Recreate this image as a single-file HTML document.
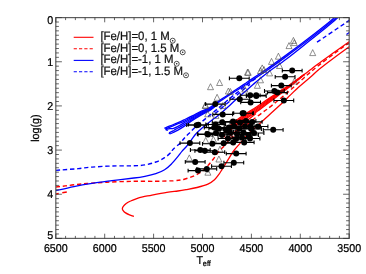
<!DOCTYPE html>
<html><head><meta charset="utf-8"><title>HR diagram</title>
<style>
html,body{margin:0;padding:0;background:#fff;overflow:hidden;}
svg{display:block;will-change:transform;text-rendering:geometricPrecision;font-family:"Liberation Sans",sans-serif;fill:#000;}
</style></head><body>
<svg width="366" height="274" viewBox="0 0 366 274">
<rect width="366" height="274" fill="#fff"/>
<defs><clipPath id="c"><rect x="55.8" y="17.6" width="293.40" height="220.80"/></clipPath></defs>
<g>
<g clip-path="url(#c)" fill="none" stroke-linejoin="round" stroke-linecap="butt">
<path d="M133.9 216.3C133.2 216.1 130.9 215.4 129.5 214.8C128.1 214.2 126.3 213.3 125.2 212.6C124.1 211.9 123.5 211.1 123.0 210.4C122.5 209.7 122.3 209.1 122.4 208.4C122.5 207.7 122.9 207.0 123.5 206.2C124.1 205.4 125.0 204.4 126.2 203.5C127.4 202.6 128.9 201.8 130.6 201.0C132.2 200.2 134.1 199.5 136.1 198.8C138.1 198.1 140.0 197.5 142.7 196.9C145.3 196.3 148.0 195.9 152.0 195.1C156.0 194.3 162.5 193.0 166.8 192.3C171.1 191.6 174.6 191.4 177.8 191.0C181.0 190.6 182.8 190.3 186.0 189.7C189.2 189.1 193.3 188.4 197.0 187.5C200.7 186.6 205.0 185.5 207.9 184.2C210.8 182.9 212.7 181.4 214.5 179.8C216.3 178.2 217.6 176.2 218.9 174.4C220.2 172.6 221.0 171.1 222.4 168.9C223.8 166.7 225.4 164.1 227.2 161.2C229.0 158.3 231.1 154.4 233.2 151.5C235.3 148.6 237.6 146.2 239.8 143.6C242.0 140.9 243.6 138.7 246.6 135.6C249.6 132.5 254.2 128.7 257.9 125.3C261.6 121.9 265.2 118.5 268.9 115.2C272.5 111.9 276.1 108.7 279.8 105.3C283.5 101.9 287.9 97.4 290.8 94.6C293.7 91.8 294.9 90.5 297.2 88.4C299.5 86.3 301.9 84.3 304.4 82.2C306.9 80.1 309.7 77.7 312.0 75.7C314.3 73.7 315.2 72.6 318.0 70.3C320.8 68.0 323.3 65.9 328.5 62.0C333.7 58.1 343.9 50.6 349.2 46.8C354.4 43.0 358.2 40.3 360.0 39.0" stroke="#f00" stroke-width="1.3"/>
<path d="M228.0 127.5C229.2 126.5 232.2 123.7 235.0 121.5C237.8 119.3 241.3 116.8 244.8 114.4C248.3 112.0 252.1 109.8 256.0 107.2C259.9 104.6 264.0 101.7 268.0 99.0C272.0 96.3 276.0 93.8 279.8 91.3C283.6 88.8 286.5 87.0 290.6 84.2C294.7 81.4 301.1 76.7 304.4 74.3C307.7 71.9 308.1 71.5 310.4 69.8C312.7 68.1 313.9 66.9 318.0 63.9C322.1 60.9 329.8 55.5 335.0 51.8C340.2 48.1 345.0 44.7 349.2 41.7C353.4 38.7 358.2 35.3 360.0 34.0" stroke="#f00" stroke-width="1.3"/>
<path d="M228.0 128.8C229.2 127.8 232.2 124.9 235.0 122.8C237.8 120.6 241.3 118.0 244.8 115.7C248.3 113.3 252.1 111.0 256.0 108.5C259.9 105.9 264.0 102.8 268.0 100.1C272.0 97.3 276.0 94.6 279.8 92.0C283.6 89.5 286.5 87.6 290.6 84.6C294.7 81.7 302.1 76.1 304.4 74.3" stroke="#f00" stroke-width="1.3"/>
<path d="M228.0 130.0C229.2 129.0 232.2 126.2 235.0 124.0C237.8 121.8 241.3 119.3 244.8 116.9C248.3 114.5 252.1 112.3 256.0 109.7C259.9 107.1 264.0 104.0 268.0 101.2C272.0 98.3 276.0 95.5 279.8 92.8C283.6 90.1 286.5 88.1 290.6 85.1C294.7 82.0 302.1 76.2 304.4 74.4" stroke="#f00" stroke-width="1.3"/>
<path d="M228.0 131.2C229.2 130.2 232.2 127.4 235.0 125.2C237.8 123.1 241.3 120.5 244.8 118.2C248.3 115.8 252.1 113.6 256.0 111.0C259.9 108.3 264.0 105.1 268.0 102.2C272.0 99.3 276.0 96.3 279.8 93.5C283.6 90.7 286.5 88.7 290.6 85.5C294.7 82.3 302.1 76.3 304.4 74.4" stroke="#f00" stroke-width="1.3"/>
<path d="M228.0 132.5C229.2 131.5 232.2 128.7 235.0 126.5C237.8 124.3 241.3 121.8 244.8 119.4C248.3 117.0 252.1 114.9 256.0 112.2C259.9 109.5 264.0 106.3 268.0 103.3C272.0 100.3 276.0 97.2 279.8 94.3C283.6 91.4 286.5 89.2 290.6 86.0C294.7 82.7 302.1 76.4 304.4 74.5" stroke="#f00" stroke-width="1.3"/>
<path d="M228.0 127.5C227.5 128.1 225.7 129.8 225.0 131.0C224.3 132.2 223.8 133.8 224.0 135.0C224.2 136.2 225.0 137.8 226.0 138.0C227.0 138.2 228.3 137.2 230.0 136.0C231.7 134.8 233.5 133.2 236.0 131.0C238.5 128.8 241.5 125.4 244.8 122.5C248.1 119.6 254.1 115.0 256.0 113.5" stroke="#f00" stroke-width="1.3"/>
<path d="M55.8 194.0L66.8 191.9" stroke="#f00" stroke-width="1.5" stroke-dasharray="3 3.6 5"/>
<path d="M55.8 187.0C57.4 186.8 61.3 186.4 65.2 185.9C69.1 185.4 75.8 184.6 79.4 184.2C83.1 183.8 82.5 183.8 87.1 183.5C91.7 183.2 99.3 182.6 106.8 182.2C114.3 181.8 123.8 181.5 132.0 181.3C140.2 181.2 148.9 181.4 155.8 181.3C162.7 181.2 168.7 181.0 173.4 180.7C178.2 180.3 180.7 180.1 184.3 179.2C187.9 178.3 191.8 176.8 194.8 175.5C197.8 174.2 200.2 172.8 202.4 171.1C204.6 169.4 206.1 167.6 207.9 165.6C209.7 163.6 211.6 161.4 213.4 159.0C215.2 156.6 216.9 153.7 218.9 151.3C220.9 148.9 223.7 146.8 225.5 144.8C227.3 142.8 227.2 141.9 229.8 139.3C232.4 136.8 236.7 133.1 241.0 129.5C245.3 125.9 251.0 121.2 255.7 117.6C260.3 114.0 264.9 110.9 268.9 107.8C272.9 104.7 276.1 102.0 279.8 99.0C283.5 96.0 286.7 93.4 290.8 89.8C294.9 86.2 299.9 81.4 304.4 77.4C308.9 73.4 312.9 70.0 318.0 65.9C323.1 61.8 329.8 56.9 335.0 53.0C340.2 49.1 345.0 45.7 349.2 42.7C353.4 39.7 358.2 36.3 360.0 35.0" stroke="#f00" stroke-width="1.4" stroke-dasharray="4.3 2.8"/>
<path d="M55.8 190.7C58.8 190.0 67.9 187.8 73.9 186.6C79.9 185.4 85.7 184.4 92.0 183.4C98.3 182.4 105.0 181.6 112.0 180.7C119.0 179.8 128.4 178.7 133.9 178.0C139.4 177.3 141.2 177.0 144.9 176.3C148.6 175.6 152.5 174.8 155.8 173.7C159.1 172.6 162.0 171.3 164.6 169.7C167.2 168.1 169.0 166.4 171.2 164.2C173.4 162.0 176.0 158.8 177.8 156.6C179.6 154.4 180.7 152.7 182.1 151.1C183.5 149.5 184.5 148.8 186.0 147.0C187.5 145.2 189.4 142.5 191.1 140.3C192.8 138.1 194.3 135.7 196.0 133.8C197.7 131.9 198.0 131.5 201.0 129.0C204.0 126.5 210.7 121.2 214.0 118.6C217.3 116.0 218.6 115.2 221.0 113.2C223.4 111.2 225.8 109.0 228.2 106.8C230.6 104.6 233.1 102.1 235.2 100.2C237.3 98.3 239.0 96.8 240.8 95.2C242.6 93.6 244.0 92.5 246.0 90.8C248.0 89.0 249.3 87.6 252.8 84.7C256.3 81.8 261.1 77.5 266.8 73.2C272.5 68.9 279.8 64.0 286.8 58.7C293.8 53.4 302.4 46.4 308.6 41.5C314.8 36.6 319.1 33.2 324.0 29.2C328.9 25.2 334.5 20.5 338.0 17.6C341.5 14.7 343.8 12.9 345.0 12.0" stroke="#00f" stroke-width="1.3"/>
<path d="M164.4 128.4C165.3 128.0 167.8 126.8 170.0 125.9C172.2 125.0 175.2 123.9 177.5 122.9C179.8 121.9 181.4 121.1 184.0 119.9C186.6 118.7 189.9 117.2 192.8 115.7C195.7 114.2 198.6 112.6 201.5 111.2C204.4 109.8 206.9 109.4 210.3 107.3C213.7 105.2 217.1 102.2 222.0 98.8C226.9 95.5 236.0 89.7 240.0 87.0C244.0 84.4 243.9 84.4 246.0 83.0C248.1 81.5 249.3 80.7 252.8 78.4C256.3 76.1 261.1 72.9 266.8 69.0C272.5 65.0 279.8 59.7 286.8 54.6C293.8 49.5 302.4 43.0 308.6 38.2C314.8 33.5 319.5 29.8 324.0 26.2C328.5 22.7 332.3 19.4 335.5 16.9C338.7 14.3 341.8 11.8 343.0 10.8" stroke="#00f" stroke-width="1.3"/>
<path d="M165.2 129.2C166.0 128.9 167.9 128.1 170.0 127.2C172.1 126.3 175.2 124.9 177.5 123.9C179.8 122.9 181.4 122.6 184.0 121.4C186.6 120.2 189.9 118.3 192.8 116.8C195.7 115.3 198.6 113.7 201.5 112.2C204.4 110.7 207.9 109.3 210.3 108.0C212.7 106.7 214.1 105.5 216.0 104.2C217.9 102.9 218.0 102.6 222.0 99.9C226.0 97.2 236.0 90.8 240.0 88.2C244.0 85.6 243.9 85.8 246.0 84.5C248.1 83.1 249.3 82.2 252.8 79.9C256.3 77.6 261.1 74.4 266.8 70.5C272.5 66.5 279.8 61.2 286.8 56.1C293.8 51.0 302.4 44.5 308.6 39.8C314.8 35.0 319.5 31.3 324.0 27.8C328.5 24.2 332.3 20.9 335.5 18.4C338.7 15.8 341.8 13.3 343.0 12.2" stroke="#00f" stroke-width="1.3"/>
<path d="M167.9 130.5C167.6 130.3 165.8 129.9 166.2 129.6C166.5 129.3 168.8 128.9 170.0 128.7C171.2 128.5 172.2 128.7 173.5 128.3C174.8 128.0 175.8 127.5 177.5 126.6C179.2 125.7 181.4 124.4 184.0 122.9C186.6 121.5 189.9 119.5 192.8 117.9C195.7 116.3 198.6 114.6 201.5 113.1C204.4 111.6 207.9 110.1 210.3 108.7C212.7 107.3 215.1 105.4 216.0 104.7" stroke="#00f" stroke-width="1.3"/>
<path d="M169.0 132.8C169.7 132.5 172.2 131.4 173.2 130.9C174.2 130.4 174.3 130.0 175.0 129.6C175.7 129.2 176.0 129.1 177.5 128.3C179.0 127.5 181.4 126.1 184.0 124.6C186.6 123.0 189.9 120.8 192.8 119.0C195.7 117.2 198.6 115.6 201.5 114.0C204.4 112.4 207.9 110.9 210.3 109.4C212.7 107.9 215.1 105.9 216.0 105.2" stroke="#00f" stroke-width="1.3"/>
<path d="M169.7 134.0C170.3 133.8 171.9 133.1 173.2 132.5C174.5 131.9 175.7 131.4 177.5 130.4C179.3 129.4 181.4 128.1 184.0 126.4C186.6 124.7 189.9 122.0 192.8 120.1C195.7 118.2 198.6 116.6 201.5 114.9C204.4 113.2 207.9 111.6 210.3 110.1C212.7 108.6 215.1 106.4 216.0 105.7" stroke="#00f" stroke-width="1.3"/>
<path d="M169.0 132.8L169.7 134.0" stroke="#00f" stroke-width="1.3"/>
<path d="M55.8 170.4C59.5 170.1 72.3 169.2 78.3 168.6C84.3 168.0 86.4 167.5 92.0 167.1C97.6 166.7 105.0 166.2 112.0 166.0C119.0 165.8 128.4 166.0 133.9 165.8C139.4 165.6 141.2 165.5 144.9 164.9C148.6 164.3 152.5 163.2 155.8 162.0C159.1 160.8 162.0 159.3 164.6 157.7C167.2 156.1 169.8 153.6 171.2 152.2C172.6 150.8 171.5 151.0 173.0 149.4C174.5 147.8 178.3 144.9 180.4 142.8C182.5 140.7 183.8 138.6 185.3 137.0C186.8 135.4 187.8 134.6 189.5 133.0C191.2 131.4 192.3 129.8 195.2 127.2C198.1 124.6 203.0 120.8 207.0 117.5C211.0 114.2 215.5 110.6 219.4 107.3C223.3 104.0 227.7 100.2 230.6 97.8C233.5 95.4 235.0 94.4 236.8 92.9C238.7 91.4 240.0 90.0 241.7 88.6C243.4 87.2 244.8 86.3 247.2 84.6C249.6 82.9 254.5 79.3 256.0 78.2" stroke="#00f" stroke-width="1.4" stroke-dasharray="4.3 2.8"/>
<path d="M212.0 116.2C213.2 115.2 216.3 112.6 219.4 110.0C222.5 107.4 227.7 102.9 230.6 100.4C233.5 97.9 234.7 96.9 236.8 95.2C238.9 93.5 240.8 91.8 243.0 90.0C245.2 88.2 248.8 85.3 250.0 84.4" stroke="#00f" stroke-width="1.4" stroke-dasharray="4.3 2.8" stroke-dashoffset="3"/>
<path d="M317.0 42.2C322.4 38.6 342.0 25.3 349.2 20.4C356.4 15.5 358.2 14.2 360.0 13.0" stroke="#00f" stroke-width="1.4" stroke-dasharray="4.3 2.8"/>
<path d="M346.5 34.5C346.9 34.2 348.3 33.2 349.2 32.5C350.1 31.8 351.5 30.8 352.0 30.5" stroke="#00f" stroke-width="1.3"/>
</g>
<path d="M207.5 89.7L210.5 83.7L213.5 89.7ZM216.6 85.5L219.6 79.5L222.6 85.5ZM214.1 100.3L217.1 94.3L220.1 100.3ZM225.4 94.0L228.4 88.0L231.4 94.0ZM227.4 94.5L230.4 88.5L233.4 94.5ZM244.5 75.2L247.5 69.2L250.5 75.2ZM202.6 108.0L205.6 102.0L208.6 108.0ZM219.9 108.5L222.9 102.5L225.9 108.5ZM309.7 55.6L312.7 49.6L315.7 55.6ZM290.4 43.4L293.4 37.4L296.4 43.4ZM291.3 45.6L294.3 39.6L297.3 45.6ZM286.0 48.6L289.0 42.6L292.0 48.6ZM275.4 59.2L278.4 53.2L281.4 59.2ZM268.5 64.4L271.5 58.4L274.5 64.4ZM259.2 70.9L262.2 64.9L265.2 70.9ZM257.5 73.5L260.5 67.5L263.5 73.5ZM261.0 72.5L264.0 66.5L267.0 72.5ZM276.5 68.5L279.5 62.5L282.5 68.5ZM266.6 75.9L269.6 69.9L272.6 75.9ZM257.5 82.8L260.5 76.8L263.5 82.8ZM245.2 75.3L248.2 69.3L251.2 75.3ZM254.4 88.3L257.4 82.3L260.4 88.3ZM241.8 92.0L244.8 86.0L247.8 92.0ZM202.2 108.5L205.2 102.5L208.2 108.5ZM204.7 116.8L207.7 110.8L210.7 116.8ZM212.9 118.4L215.9 112.4L218.9 118.4ZM291.5 84.0L294.5 78.0L297.5 84.0ZM186.3 160.9L189.3 154.9L192.3 160.9ZM215.9 162.0L218.9 156.0L221.9 162.0ZM210.4 142.3L213.4 136.3L216.4 142.3ZM202.7 143.4L205.7 137.4L208.7 143.4ZM204.9 175.2L207.9 169.2L210.9 175.2ZM217.0 152.2L220.0 146.2L223.0 152.2Z" fill="none" stroke="#444" stroke-width="0.6"/>
<path d="M229.4 78.3H249.2M229.4 76.4v3.8M249.2 76.4v3.8M205.4 104.1H225.2M205.4 102.2v3.8M225.2 102.2v3.8M186.7 125.2H206.5M186.7 123.3v3.8M206.5 123.3v3.8M188.5 124.7H208.3M188.5 122.8v3.8M208.3 122.8v3.8M180.0 143.1H199.8M180.0 141.2v3.8M199.8 141.2v3.8M282.3 70.6H302.1M282.3 68.7v3.8M302.1 68.7v3.8M275.2 76.8H295.0M275.2 74.9v3.8M295.0 74.9v3.8M271.4 85.6H291.2M271.4 83.7v3.8M291.2 83.7v3.8M273.9 100.5H293.7M273.9 98.6v3.8M293.7 98.6v3.8M264.5 91.0H284.3M264.5 89.1v3.8M284.3 89.1v3.8M267.5 92.6H287.3M267.5 90.7v3.8M287.3 90.7v3.8M246.3 95.2H266.1M246.3 93.3v3.8M266.1 93.3v3.8M240.3 95.3H260.1M240.3 93.4v3.8M260.1 93.4v3.8M229.9 99.3H249.7M229.9 97.4v3.8M249.7 97.4v3.8M240.7 102.4H260.5M240.7 100.5v3.8M260.5 100.5v3.8M246.4 96.0H266.2M246.4 94.1v3.8M266.2 94.1v3.8M212.8 114.4H232.6M212.8 112.5v3.8M232.6 112.5v3.8M233.7 113.2H253.5M233.7 111.3v3.8M253.5 111.3v3.8M205.8 124.5H225.6M205.8 122.6v3.8M225.6 122.6v3.8M212.3 122.2H232.1M212.3 120.3v3.8M232.1 120.3v3.8M198.1 134.5H217.9M198.1 132.6v3.8M217.9 132.6v3.8M202.5 143.8H222.3M202.5 141.9v3.8M222.3 141.9v3.8M190.4 150.0H210.2M190.4 148.1v3.8M210.2 148.1v3.8M263.3 129.8H283.1M263.3 127.9v3.8M283.1 127.9v3.8M223.3 142.4H243.1M223.3 140.5v3.8M243.1 140.5v3.8M234.3 142.4H254.1M234.3 140.5v3.8M254.1 140.5v3.8M213.7 143.2H233.5M213.7 141.3v3.8M233.5 141.3v3.8M226.3 153.6H246.1M226.3 151.7v3.8M246.1 151.7v3.8M204.9 152.2H224.7M204.9 150.3v3.8M224.7 150.3v3.8M194.9 150.8H214.7M194.9 148.9v3.8M214.7 148.9v3.8M185.3 161.9H205.1M185.3 160.0v3.8M205.1 160.0v3.8M223.9 162.7H243.7M223.9 160.8v3.8M243.7 160.8v3.8M211.6 166.2H231.4M211.6 164.3v3.8M231.4 164.3v3.8M196.9 168.9H216.7M196.9 167.0v3.8M216.7 167.0v3.8M188.1 170.6H207.9M188.1 168.7v3.8M207.9 168.7v3.8M232.7 113.3H252.5M232.7 111.4v3.8M252.5 111.4v3.8M242.3 121.9H262.1M242.3 120.0v3.8M262.1 120.0v3.8M240.7 126.3H260.5M240.7 124.4v3.8M260.5 124.4v3.8M208.9 128.6H228.7M208.9 126.7v3.8M228.7 126.7v3.8M204.3 127.6H224.1M204.3 125.7v3.8M224.1 125.7v3.8M219.1 127.5H238.9M219.1 125.6v3.8M238.9 125.6v3.8M224.1 126.0H243.9M224.1 124.1v3.8M243.9 124.1v3.8M229.1 128.5H248.9M229.1 126.6v3.8M248.9 126.6v3.8M235.1 126.5H254.9M235.1 124.6v3.8M254.9 124.6v3.8M241.6 129.0H261.4M241.6 127.1v3.8M261.4 127.1v3.8M248.1 126.5H267.9M248.1 124.6v3.8M267.9 124.6v3.8M223.1 121.5H242.9M223.1 119.6v3.8M242.9 119.6v3.8M230.1 122.5H249.9M230.1 120.6v3.8M249.9 120.6v3.8M236.1 121.0H255.9M236.1 119.1v3.8M255.9 119.1v3.8M197.4 134.0H217.2M197.4 132.1v3.8M217.2 132.1v3.8M206.1 133.0H225.9M206.1 131.1v3.8M225.9 131.1v3.8M212.1 135.0H231.9M212.1 133.1v3.8M231.9 133.1v3.8M220.1 132.5H239.9M220.1 130.6v3.8M239.9 130.6v3.8M227.1 134.0H246.9M227.1 132.1v3.8M246.9 132.1v3.8M233.6 132.5H253.4M233.6 130.6v3.8M253.4 130.6v3.8M238.6 135.0H258.4M238.6 133.1v3.8M258.4 133.1v3.8M218.1 138.5H237.9M218.1 136.6v3.8M237.9 136.6v3.8M226.1 139.0H245.9M226.1 137.1v3.8M245.9 137.1v3.8M232.1 137.5H251.9M232.1 135.6v3.8M251.9 135.6v3.8M240.1 138.5H259.9M240.1 136.6v3.8M259.9 136.6v3.8M216.1 130.0H235.9M216.1 128.1v3.8M235.9 128.1v3.8M244.1 133.0H263.9M244.1 131.1v3.8M263.9 131.1v3.8" fill="none" stroke="#000" stroke-width="1.1"/>
<g fill="#000"><circle cx="239.3" cy="78.3" r="3.0"/><circle cx="215.3" cy="104.1" r="3.0"/><circle cx="196.6" cy="125.2" r="3.0"/><circle cx="198.4" cy="124.7" r="3.0"/><circle cx="189.9" cy="143.1" r="3.0"/><circle cx="292.2" cy="70.6" r="3.0"/><circle cx="285.1" cy="76.8" r="3.0"/><circle cx="281.3" cy="85.6" r="3.0"/><circle cx="283.8" cy="100.5" r="3.0"/><circle cx="274.4" cy="91.0" r="3.0"/><circle cx="277.4" cy="92.6" r="3.0"/><circle cx="256.2" cy="95.2" r="3.0"/><circle cx="250.2" cy="95.3" r="3.0"/><circle cx="239.8" cy="99.3" r="3.0"/><circle cx="250.6" cy="102.4" r="3.0"/><circle cx="256.3" cy="96.0" r="3.0"/><circle cx="222.7" cy="114.4" r="3.0"/><circle cx="243.6" cy="113.2" r="3.0"/><circle cx="215.7" cy="124.5" r="3.0"/><circle cx="222.2" cy="122.2" r="3.0"/><circle cx="208.0" cy="134.5" r="3.0"/><circle cx="212.4" cy="143.8" r="3.0"/><circle cx="200.3" cy="150.0" r="3.0"/><circle cx="273.2" cy="129.8" r="3.0"/><circle cx="233.2" cy="142.4" r="3.0"/><circle cx="244.2" cy="142.4" r="3.0"/><circle cx="223.6" cy="143.2" r="3.0"/><circle cx="236.2" cy="153.6" r="3.0"/><circle cx="214.8" cy="152.2" r="3.0"/><circle cx="204.8" cy="150.8" r="3.0"/><circle cx="195.2" cy="161.9" r="3.0"/><circle cx="233.8" cy="162.7" r="3.0"/><circle cx="221.5" cy="166.2" r="3.0"/><circle cx="206.8" cy="168.9" r="3.0"/><circle cx="198.0" cy="170.6" r="3.0"/><circle cx="242.6" cy="113.3" r="3.0"/><circle cx="252.2" cy="121.9" r="3.0"/><circle cx="250.6" cy="126.3" r="3.0"/><circle cx="218.8" cy="128.6" r="3.0"/><circle cx="214.2" cy="127.6" r="3.0"/><circle cx="229.0" cy="127.5" r="3.0"/><circle cx="234.0" cy="126.0" r="3.0"/><circle cx="239.0" cy="128.5" r="3.0"/><circle cx="245.0" cy="126.5" r="3.0"/><circle cx="251.5" cy="129.0" r="3.0"/><circle cx="258.0" cy="126.5" r="3.0"/><circle cx="233.0" cy="121.5" r="3.0"/><circle cx="240.0" cy="122.5" r="3.0"/><circle cx="246.0" cy="121.0" r="3.0"/><circle cx="207.3" cy="134.0" r="3.0"/><circle cx="216.0" cy="133.0" r="3.0"/><circle cx="222.0" cy="135.0" r="3.0"/><circle cx="230.0" cy="132.5" r="3.0"/><circle cx="237.0" cy="134.0" r="3.0"/><circle cx="243.5" cy="132.5" r="3.0"/><circle cx="248.5" cy="135.0" r="3.0"/><circle cx="228.0" cy="138.5" r="3.0"/><circle cx="236.0" cy="139.0" r="3.0"/><circle cx="242.0" cy="137.5" r="3.0"/><circle cx="250.0" cy="138.5" r="3.0"/><circle cx="226.0" cy="130.0" r="3.0"/><circle cx="254.0" cy="133.0" r="3.0"/></g>
<rect x="55.8" y="17.6" width="293.40" height="220.80" fill="none" stroke="#5c5c5c" stroke-width="1.2"/>
<path d="M55.80 238.4v-4.7M55.80 17.6v4.7M65.58 238.4v-2.5M65.58 17.6v2.5M75.36 238.4v-2.5M75.36 17.6v2.5M85.14 238.4v-2.5M85.14 17.6v2.5M94.92 238.4v-2.5M94.92 17.6v2.5M104.70 238.4v-4.7M104.70 17.6v4.7M114.48 238.4v-2.5M114.48 17.6v2.5M124.26 238.4v-2.5M124.26 17.6v2.5M134.04 238.4v-2.5M134.04 17.6v2.5M143.82 238.4v-2.5M143.82 17.6v2.5M153.60 238.4v-4.7M153.60 17.6v4.7M163.38 238.4v-2.5M163.38 17.6v2.5M173.16 238.4v-2.5M173.16 17.6v2.5M182.94 238.4v-2.5M182.94 17.6v2.5M192.72 238.4v-2.5M192.72 17.6v2.5M202.50 238.4v-4.7M202.50 17.6v4.7M212.28 238.4v-2.5M212.28 17.6v2.5M222.06 238.4v-2.5M222.06 17.6v2.5M231.84 238.4v-2.5M231.84 17.6v2.5M241.62 238.4v-2.5M241.62 17.6v2.5M251.40 238.4v-4.7M251.40 17.6v4.7M261.18 238.4v-2.5M261.18 17.6v2.5M270.96 238.4v-2.5M270.96 17.6v2.5M280.74 238.4v-2.5M280.74 17.6v2.5M290.52 238.4v-2.5M290.52 17.6v2.5M300.30 238.4v-4.7M300.30 17.6v4.7M310.08 238.4v-2.5M310.08 17.6v2.5M319.86 238.4v-2.5M319.86 17.6v2.5M329.64 238.4v-2.5M329.64 17.6v2.5M339.42 238.4v-2.5M339.42 17.6v2.5M349.20 238.4v-4.7M349.20 17.6v4.7M55.8 17.60h6.1M349.2 17.60h-6.1M55.8 22.02h3.1M349.2 22.02h-3.1M55.8 26.43h3.1M349.2 26.43h-3.1M55.8 30.85h3.1M349.2 30.85h-3.1M55.8 35.26h3.1M349.2 35.26h-3.1M55.8 39.68h3.1M349.2 39.68h-3.1M55.8 44.10h3.1M349.2 44.10h-3.1M55.8 48.51h3.1M349.2 48.51h-3.1M55.8 52.93h3.1M349.2 52.93h-3.1M55.8 57.34h3.1M349.2 57.34h-3.1M55.8 61.76h6.1M349.2 61.76h-6.1M55.8 66.18h3.1M349.2 66.18h-3.1M55.8 70.59h3.1M349.2 70.59h-3.1M55.8 75.01h3.1M349.2 75.01h-3.1M55.8 79.42h3.1M349.2 79.42h-3.1M55.8 83.84h3.1M349.2 83.84h-3.1M55.8 88.26h3.1M349.2 88.26h-3.1M55.8 92.67h3.1M349.2 92.67h-3.1M55.8 97.09h3.1M349.2 97.09h-3.1M55.8 101.50h3.1M349.2 101.50h-3.1M55.8 105.92h6.1M349.2 105.92h-6.1M55.8 110.34h3.1M349.2 110.34h-3.1M55.8 114.75h3.1M349.2 114.75h-3.1M55.8 119.17h3.1M349.2 119.17h-3.1M55.8 123.58h3.1M349.2 123.58h-3.1M55.8 128.00h3.1M349.2 128.00h-3.1M55.8 132.42h3.1M349.2 132.42h-3.1M55.8 136.83h3.1M349.2 136.83h-3.1M55.8 141.25h3.1M349.2 141.25h-3.1M55.8 145.66h3.1M349.2 145.66h-3.1M55.8 150.08h6.1M349.2 150.08h-6.1M55.8 154.50h3.1M349.2 154.50h-3.1M55.8 158.91h3.1M349.2 158.91h-3.1M55.8 163.33h3.1M349.2 163.33h-3.1M55.8 167.74h3.1M349.2 167.74h-3.1M55.8 172.16h3.1M349.2 172.16h-3.1M55.8 176.58h3.1M349.2 176.58h-3.1M55.8 180.99h3.1M349.2 180.99h-3.1M55.8 185.41h3.1M349.2 185.41h-3.1M55.8 189.82h3.1M349.2 189.82h-3.1M55.8 194.24h6.1M349.2 194.24h-6.1M55.8 198.66h3.1M349.2 198.66h-3.1M55.8 203.07h3.1M349.2 203.07h-3.1M55.8 207.49h3.1M349.2 207.49h-3.1M55.8 211.90h3.1M349.2 211.90h-3.1M55.8 216.32h3.1M349.2 216.32h-3.1M55.8 220.74h3.1M349.2 220.74h-3.1M55.8 225.15h3.1M349.2 225.15h-3.1M55.8 229.57h3.1M349.2 229.57h-3.1M55.8 233.98h3.1M349.2 233.98h-3.1M55.8 238.40h6.1M349.2 238.40h-6.1" stroke="#333" stroke-width="0.75" fill="none"/>
<text transform="translate(55.80 252.30) scale(1 1.06)" text-anchor="middle" font-size="10.7" fill="#000" stroke="#000" stroke-width="0.22">6500</text>
<text transform="translate(104.70 252.30) scale(1 1.06)" text-anchor="middle" font-size="10.7" fill="#000" stroke="#000" stroke-width="0.22">6000</text>
<text transform="translate(153.60 252.30) scale(1 1.06)" text-anchor="middle" font-size="10.7" fill="#000" stroke="#000" stroke-width="0.22">5500</text>
<text transform="translate(202.50 252.30) scale(1 1.06)" text-anchor="middle" font-size="10.7" fill="#000" stroke="#000" stroke-width="0.22">5000</text>
<text transform="translate(251.40 252.30) scale(1 1.06)" text-anchor="middle" font-size="10.7" fill="#000" stroke="#000" stroke-width="0.22">4500</text>
<text transform="translate(300.30 252.30) scale(1 1.06)" text-anchor="middle" font-size="10.7" fill="#000" stroke="#000" stroke-width="0.22">4000</text>
<text transform="translate(349.20 252.30) scale(1 1.06)" text-anchor="middle" font-size="10.7" fill="#000" stroke="#000" stroke-width="0.22">3500</text>
<text transform="translate(53.20 24.00) scale(1 1.06)" text-anchor="end" font-size="10.7" fill="#000" stroke="#000" stroke-width="0.22">0</text>
<text transform="translate(53.20 65.86) scale(1 1.06)" text-anchor="end" font-size="10.7" fill="#000" stroke="#000" stroke-width="0.22">1</text>
<text transform="translate(53.20 110.02) scale(1 1.06)" text-anchor="end" font-size="10.7" fill="#000" stroke="#000" stroke-width="0.22">2</text>
<text transform="translate(53.20 154.18) scale(1 1.06)" text-anchor="end" font-size="10.7" fill="#000" stroke="#000" stroke-width="0.22">3</text>
<text transform="translate(53.20 198.34) scale(1 1.06)" text-anchor="end" font-size="10.7" fill="#000" stroke="#000" stroke-width="0.22">4</text>
<text transform="translate(53.20 238.50) scale(1 1.06)" text-anchor="end" font-size="10.7" fill="#000" stroke="#000" stroke-width="0.22">5</text>
<text transform="translate(38.70 128.20) rotate(-90) scale(1 1.06)" text-anchor="middle" font-size="10.7" fill="#000" stroke="#000" stroke-width="0.22">log(g)</text>
<text transform="translate(196.60 263.50) scale(1 1.06)" font-size="10.7" fill="#000" stroke="#000" stroke-width="0.22">T<tspan font-size="7.3" dy="2.3" dx="-0.3">eff</tspan></text>
<path d="M73.7 37.3H93.5" stroke="#f00" stroke-width="1.1" fill="none"/>
<text transform="translate(100.40 40.30) scale(1 1.06)" font-size="11.4" fill="#111" stroke="#111" stroke-width="0.22">[Fe/H]=0, 1 M</text>
<circle cx="172.7" cy="40.7" r="2.5" fill="none" stroke="#222" stroke-width="0.8"/><circle cx="172.7" cy="40.7" r="0.8" fill="#222"/>
<path d="M73.7 48.8H93.5" stroke="#f00" stroke-width="1.1" stroke-dasharray="3.2 2.1" fill="none"/>
<text transform="translate(100.40 51.90) scale(1 1.06)" font-size="11.4" fill="#111" stroke="#111" stroke-width="0.22">[Fe/H]=0, 1.5 M</text>
<circle cx="182.7" cy="52.3" r="2.5" fill="none" stroke="#222" stroke-width="0.8"/><circle cx="182.7" cy="52.3" r="0.8" fill="#222"/>
<path d="M73.7 60.4H93.5" stroke="#00f" stroke-width="1.1" fill="none"/>
<text transform="translate(100.40 63.40) scale(1 1.06)" font-size="11.4" fill="#111" stroke="#111" stroke-width="0.22">[Fe/H]=-1, 1 M</text>
<circle cx="176.7" cy="63.8" r="2.5" fill="none" stroke="#222" stroke-width="0.8"/><circle cx="176.7" cy="63.8" r="0.8" fill="#222"/>
<path d="M73.7 71.7H93.5" stroke="#00f" stroke-width="1.1" stroke-dasharray="3.2 2.1" fill="none"/>
<text transform="translate(100.40 74.90) scale(1 1.06)" font-size="11.4" fill="#111" stroke="#111" stroke-width="0.22">[Fe/H]=-1, 1.5 M</text>
<circle cx="186.0" cy="75.3" r="2.5" fill="none" stroke="#222" stroke-width="0.8"/><circle cx="186.0" cy="75.3" r="0.8" fill="#222"/>
</g>
</svg>
</body></html>
